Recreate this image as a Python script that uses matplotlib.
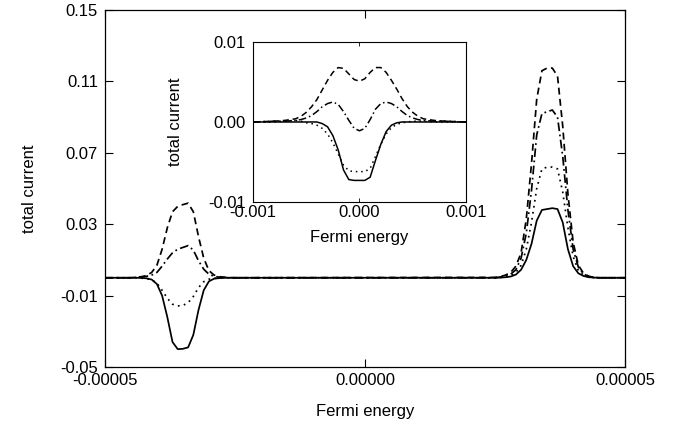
import matplotlib
matplotlib.use("Agg")
import matplotlib.pyplot as plt

plt.rcParams['font.family'] = ['Liberation Sans', 'DejaVu Sans']

# ---------------- main panel data ----------------
fermi_main = [-5.0e-5,
              -4.5e-5, -4.4e-5, -4.3e-5, -4.2e-5, -4.1e-5, -4.0e-5, -3.9e-5, -3.8e-5, -3.7e-5, -3.6e-5,
              -3.5e-5, -3.4e-5, -3.3e-5, -3.2e-5, -3.1e-5, -3.0e-5, -2.9e-5, -2.8e-5, -2.7e-5, -2.6e-5, -2.5e-5,
              2.5e-5, 2.6e-5, 2.7e-5, 2.8e-5, 2.9e-5, 3.0e-5, 3.1e-5, 3.2e-5, 3.3e-5, 3.4e-5,
              3.5e-5, 3.6e-5, 3.7e-5, 3.8e-5, 3.9e-5, 4.0e-5, 4.1e-5, 4.2e-5, 4.3e-5, 4.4e-5, 4.5e-5,
              5.0e-5]

main_solid = [0.0,
              0.0, 0.0, -0.0001, -0.0003, -0.001, -0.0035, -0.010, -0.022, -0.036, -0.0400,
              -0.0398, -0.0390, -0.032, -0.018, -0.007, -0.002, -0.0005, -0.0002, 0.0, 0.0, 0.0,
              0.0, 0.0001, 0.0003, 0.0007, 0.0018, 0.0045, 0.010, 0.019, 0.032, 0.038,
              0.0385, 0.039, 0.0385, 0.031, 0.016, 0.0065, 0.0025, 0.001, 0.0003, 0.0001, 0.0,
              0.0]

main_dotted = [0.0,
               0.0, 0.0, -0.0002, -0.0005, -0.0012, -0.003, -0.007, -0.0115, -0.0148, -0.0158,
               -0.0155, -0.0140, -0.0105, -0.0055, -0.0022, -0.0008, -0.0003, -0.0001, 0.0, 0.0, 0.0,
               0.0, 0.0002, 0.0005, 0.001, 0.003, 0.007, 0.016, 0.031, 0.050, 0.061,
               0.062, 0.062, 0.061, 0.048, 0.028, 0.012, 0.004, 0.0015, 0.0005, 0.0001, 0.0,
               0.0]

main_dashdot = [0.0,
                0.0, 0.0002, 0.0004, 0.0008, 0.0015, 0.003, 0.0065, 0.0105, 0.014, 0.016,
                0.017, 0.018, 0.0155, 0.0095, 0.0048, 0.002, 0.0008, 0.0003, 0.0001, 0.0, 0.0,
                0.0, 0.0004, 0.001, 0.002, 0.0045, 0.011, 0.025, 0.049, 0.080, 0.092,
                0.093, 0.094, 0.090, 0.068, 0.038, 0.016, 0.006, 0.002, 0.0008, 0.0002, 0.0,
                0.0]

main_dashed = [0.0,
               0.0, 0.0003, 0.0006, 0.0012, 0.003, 0.007, 0.016, 0.028, 0.037, 0.040,
               0.041, 0.0418, 0.037, 0.023, 0.011, 0.004, 0.0015, 0.0006, 0.0003, 0.0001, 0.0,
               0.0002, 0.0006, 0.0015, 0.003, 0.0065, 0.014, 0.033, 0.064, 0.100, 0.116,
               0.1175, 0.1175, 0.113, 0.085, 0.047, 0.020, 0.007, 0.0025, 0.0008, 0.0002, 0.0,
               0.0]

main_yticks = [-0.05, -0.01, 0.03, 0.07, 0.11, 0.15]
main_yticklabels = ["-0.05", "-0.01", "0.03", "0.07", "0.11", "0.15"]
main_xticks = [-0.00005, 0.0, 0.00005]
main_xticklabels = ["-0.00005", "0.00000", "0.00005"]

# ---------------- inset data ----------------
fermi_inset = [-1.0e-3, -0.8e-3, -0.7e-3, -0.6e-3, -0.55e-3, -0.5e-3, -0.45e-3, -0.4e-3, -0.35e-3, -0.3e-3,
               -0.25e-3, -0.2e-3, -0.15e-3, -0.1e-3, -0.05e-3, 0.0, 0.05e-3, 0.1e-3, 0.15e-3, 0.2e-3,
               0.25e-3, 0.3e-3, 0.35e-3, 0.4e-3, 0.45e-3, 0.5e-3, 0.55e-3, 0.6e-3, 0.7e-3, 0.8e-3, 1.0e-3]

inset_dashed = [0.0, 0.0001, 0.0002, 0.0004, 0.0007, 0.0012, 0.0019, 0.0028, 0.0040, 0.0052,
                0.0062, 0.0068, 0.0067, 0.0060, 0.0053, 0.0051, 0.0054, 0.0062, 0.0068, 0.0068,
                0.0062, 0.0052, 0.0041, 0.0029, 0.0019, 0.0012, 0.0007, 0.0004, 0.0002, 0.0001, 0.0]

inset_dashdot = [0.0, 0.0001, 0.0001, 0.0002, 0.0003, 0.0005, 0.0008, 0.0013, 0.0019, 0.0023,
                 0.0025, 0.0022, 0.0013, 0.0002, -0.0008, -0.0011, -0.0008, 0.0003, 0.0016, 0.0023,
                 0.0025, 0.0023, 0.0019, 0.0013, 0.0008, 0.0005, 0.0003, 0.0002, 0.0001, 0.0001, 0.0]

inset_solid = [0.0, 0.0, 0.0, 0.0, 0.0, 0.0, 0.0, 0.0, -0.0002, -0.0006,
               -0.0017, -0.0035, -0.0060, -0.0072, -0.0073, -0.0073, -0.0073, -0.0069, -0.0048, -0.0028,
               -0.0012, -0.0004, -0.0001, 0.0, 0.0, 0.0, 0.0, 0.0, 0.0, 0.0, 0.0]

inset_dotted = [0.0, 0.0, 0.0001, 0.0002, 0.0001, -0.0001, -0.0002, -0.0004, -0.0008, -0.0015,
                -0.0026, -0.0040, -0.0054, -0.0061, -0.0062, -0.0062, -0.0062, -0.0058, -0.0043, -0.0028,
                -0.0015, -0.0007, -0.0003, -0.0001, 0.0, 0.0001, 0.0001, 0.0001, 0.0, 0.0, 0.0]

inset_yticks = [-0.01, 0.0, 0.01]
inset_yticklabels = ["-0.01", "0.00", "0.01"]
inset_xticks = [-0.001, 0.0, 0.001]
inset_xticklabels = ["-0.001", "0.000", "0.001"]

# ---------------- drawing ----------------
fs = 12
fig = plt.figure(figsize=(6.81, 4.28), dpi=100)
ax = fig.add_axes([0.154, 0.1425, 0.764, 0.834])

lw = 1.25
ax.plot(fermi_main, main_dashed, color='black', lw=lw, linestyle=(0, (4, 2.5)))
ax.plot(fermi_main, main_dashdot, color='black', lw=lw, linestyle=(0, (5, 2, 1, 2)))
ax.plot(fermi_main, main_dotted, color='black', lw=lw, linestyle=(0, (1, 2.5)))
ax.plot(fermi_main, main_solid, color='black', lw=lw, linestyle='-')

ax.set_xlim(-0.00005, 0.00005)
ax.set_ylim(-0.05, 0.15)
ax.set_xticks(main_xticks)
ax.set_xticklabels(main_xticklabels)
ax.set_yticks(main_yticks)
ax.set_yticklabels(main_yticklabels)
ax.tick_params(direction='in', top=True, right=True, length=6, width=0.8, labelsize=fs, pad=5)
ax.tick_params(axis='x', pad=4)
ax.set_xlabel("Fermi energy", fontsize=fs, labelpad=12)
ax.set_ylabel("total current", fontsize=fs, labelpad=17)
for s in ax.spines.values():
    s.set_linewidth(0.9)

axi = fig.add_axes([0.3715, 0.528, 0.3128, 0.374])
axi.plot(fermi_inset, inset_dashed, color='black', lw=1.1, linestyle=(0, (4, 2.5)))
axi.plot(fermi_inset, inset_dashdot, color='black', lw=1.1, linestyle=(0, (5, 2, 1, 2)))
axi.plot(fermi_inset, inset_dotted, color='black', lw=1.1, linestyle=(0, (1, 2.5)))
axi.plot(fermi_inset, inset_solid, color='black', lw=1.1, linestyle='-')
axi.set_xlim(-0.001, 0.001)
axi.set_ylim(-0.01, 0.01)
axi.set_xticks(inset_xticks)
axi.set_xticklabels(inset_xticklabels)
axi.set_yticks(inset_yticks)
axi.set_yticklabels(inset_yticklabels)
axi.tick_params(direction='in', top=True, right=True, length=3, width=0.6, labelsize=fs, pad=5)
axi.tick_params(axis='x', pad=2)
axi.set_xlabel("Fermi energy", fontsize=fs, labelpad=7)
axi.set_ylabel("total current", fontsize=fs, labelpad=18)
for s in axi.spines.values():
    s.set_linewidth(0.8)

fig.savefig("out.png", dpi=100)
